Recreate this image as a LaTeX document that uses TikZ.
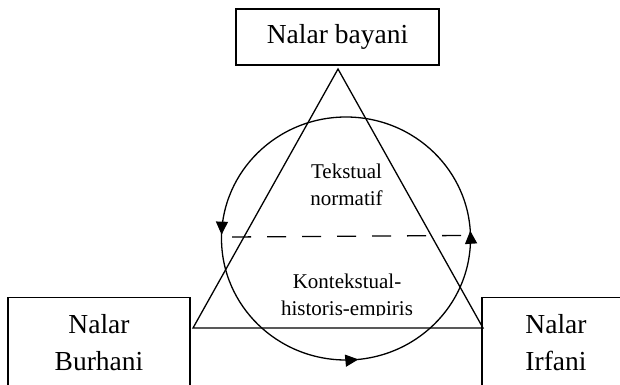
\documentclass[tikz,border=0pt]{standalone}
\usepackage{fontspec}
\setmainfont{Liberation Serif}
\usetikzlibrary{positioning,arrows.meta,decorations.markings}

\begin{document}
\begin{tikzpicture}[%
  x=1pt,
  y=1pt,
  line width=1.3pt,
  >={Triangle[length=13pt,width=12pt]},
  kotak/.style={draw, line width=1.3pt, inner sep=0pt},
  judul/.style={font=\fontsize{27.5}{37}\selectfont, align=center, inner sep=0pt},
  isi/.style={font=\fontsize{21}{27}\selectfont, align=center, inner sep=0pt},
  putar/.style={
    postaction=decorate,
    decoration={markings,
      mark=at position 0.016 with {\arrow{>}},
      mark=at position 0.260 with {\arrow{>}},
      mark=at position 0.745 with {\arrow{>}}}}
  ]
  \clip (0,0) rectangle (620,384);
  %% Kotak
  \node[kotak, judul, minimum width=203pt, minimum height=56pt] (bayani) at (337.5,347) {Nalar bayani};
  \node[kotak, minimum width=182pt, minimum height=120pt, anchor=north] (burhani) at (99,87) {};
  \node[kotak, minimum width=148pt, minimum height=120pt, anchor=north] (irfani) at (556,87) {};
  \node[judul, anchor=north] (burhaniT) at (99,69.8) {Nalar\\Burhani};
  \node[judul, anchor=north] (irfaniT) at (556,69.8) {Nalar\\Irfani};
  %% Segitiga
  \coordinate (puncak) at (338,315);
  \coordinate (kiri) at (193,56);
  \coordinate (kanan) at (483,56);
  \draw (puncak) -- (kiri) -- (kanan) -- cycle;
  %% Lingkaran
  \coordinate (pusat) at (346,145.5);
  \draw[putar] ([yshift=-121.5pt]pusat) arc[start angle=-90, end angle=270, x radius=124.5pt, y radius=121.5pt];
  %% Garis putus
  \coordinate (garisA) at (232,147);
  \coordinate (garisB) at (461,148.5);
  \draw[dash pattern=on 19pt off 16pt] (garisA) -- (garisB);
  %% Teks
  \node[isi, anchor=north] (tekstual) at (346.5,220.3) {Tekstual\\normatif};
  \begin{scope}
    \clip (230,69) rectangle (460,130);
    \node[isi, anchor=north] (kontekstual) at (347,110.3) {Kontekstual-\\historis-empiris};
  \end{scope}
\end{tikzpicture}
\end{document}
